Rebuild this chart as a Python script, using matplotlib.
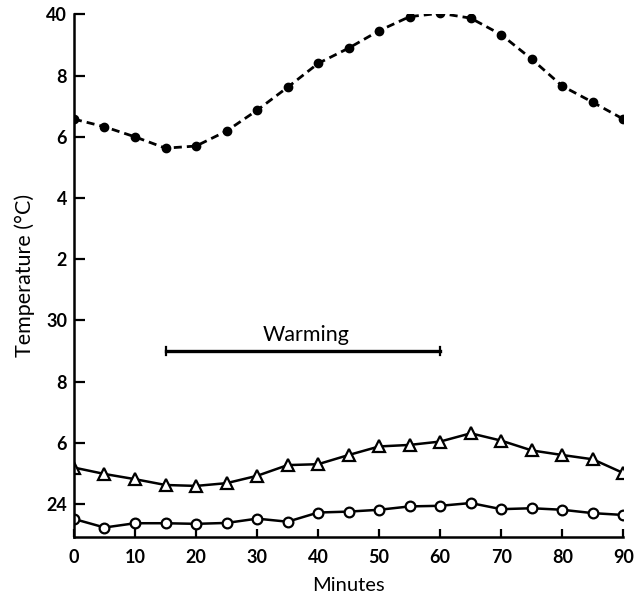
import matplotlib
matplotlib.use("Agg")
import matplotlib.pyplot as plt

minutes = [0, 5, 10, 15, 20, 25, 30, 35, 40, 45, 50, 55, 60, 65, 70, 75, 80, 85, 90]
closed_circles = [36.58, 36.33, 36.00, 35.63, 35.70, 36.19, 36.87, 37.62, 38.40, 38.90,
                  39.47, 39.93, 40.04, 39.88, 39.34, 38.54, 37.66, 37.13, 36.58]
triangles = [25.19, 24.98, 24.81, 24.62, 24.59, 24.68, 24.92, 25.27, 25.30, 25.60,
             25.88, 25.93, 26.04, 26.31, 26.07, 25.75, 25.60, 25.46, 25.01]
open_circles = [23.51, 23.23, 23.37, 23.37, 23.35, 23.38, 23.52, 23.42, 23.72, 23.75,
                23.81, 23.92, 23.94, 24.03, 23.83, 23.86, 23.81, 23.70, 23.64]

ytick_vals = [24, 26, 28, 30, 32, 34, 36, 38, 40]
ytick_labels = ["24", "6", "8", "30", "2", "4", "6", "8", "40"]
xtick_vals = [0, 10, 20, 30, 40, 50, 60, 70, 80, 90]
warming_start, warming_end, warming_level = 15, 60, 29.0

plt.rcParams['font.family'] = ['Lato', 'DejaVu Sans']

fig = plt.figure(figsize=(6.35, 6.01), dpi=100)
ax = fig.add_axes([0.1165, 0.107, 0.8651, 0.8689])

ax.plot(minutes, closed_circles, color='black', lw=2.0, linestyle=(0, (2.9, 1.8)),
        marker='o', markersize=6, markerfacecolor='black', markeredgecolor='black')
ax.plot(minutes, triangles, color='black', lw=1.8, marker='^', markersize=8.5,
        markerfacecolor='white', markeredgecolor='black', markeredgewidth=1.6)
ax.plot(minutes, open_circles, color='black', lw=1.8, marker='o', markersize=7,
        markerfacecolor='white', markeredgecolor='black', markeredgewidth=1.6)

# Warming bar
ax.plot([warming_start, warming_end], [warming_level, warming_level], color='black', lw=2.4)
ax.plot([warming_start, warming_start], [warming_level - 0.12, warming_level + 0.12], color='black', lw=1.6)
ax.plot([warming_end, warming_end], [warming_level - 0.12, warming_level + 0.12], color='black', lw=1.6)
ax.text((warming_start + warming_end) / 2 + 0.5, warming_level + 0.2, "Warming",
        ha='center', va='bottom', fontsize=15.5)

ax.set_xlim(0, 90)
ax.set_ylim(22.93, 40)
ax.set_xticks(xtick_vals)
ax.set_xticklabels([str(v) for v in xtick_vals], fontsize=13, fontweight='bold')
ax.set_yticks(ytick_vals)
ax.set_yticklabels(ytick_labels, fontsize=13, fontweight='bold')

for s in ['top', 'right']:
    ax.spines[s].set_visible(False)
for s in ['left', 'bottom']:
    ax.spines[s].set_linewidth(1.8)
ax.spines['left'].set_bounds(22.93, 40)

ax.tick_params(axis='y', direction='in', length=8, width=1.6, pad=5)
ax.tick_params(axis='x', direction='in', length=6, width=1.6, pad=9)

ax.set_xlabel("Minutes", fontsize=14.5, labelpad=8)
ax.set_ylabel("Temperature (°C)", fontsize=15.5, labelpad=8)

fig.savefig("out.png", dpi=100)
